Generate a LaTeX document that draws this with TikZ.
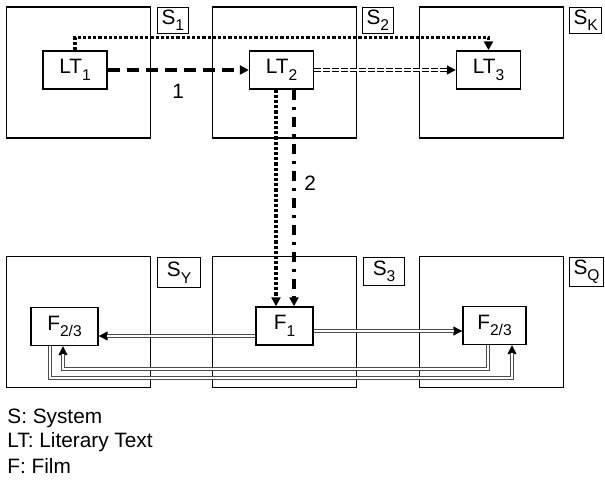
\documentclass[tikz,border=0pt]{standalone}
\usepackage{fontspec}
\setmainfont{Liberation Sans}
\usetikzlibrary{arrows.meta}
\newcommand{\lowsub}[1]{\raisebox{-3.2pt}{\fontsize{7.8}{8}\selectfont #1}}
\tikzset{sys/.style={draw,line width=0.7pt,minimum width=72pt,minimum height=65.5pt,inner sep=0pt},
 tag/.style={draw,line width=0.6pt,anchor=north west,inner xsep=2pt,inner ysep=1.2pt,minimum height=12.5pt},
 item/.style={draw,line width=0.7pt,minimum width=32pt,minimum height=19pt,inner sep=1pt},
 tip/.style={-{Triangle[length=4.5pt,width=4.5pt]}},
 dotline/.style={tip,line width=1.6pt,dash pattern=on 1.6pt off 1pt},
 dashline/.style={tip,line width=2pt,dash pattern=on 6pt off 3.5pt},
 dashdot/.style={tip,line width=1.6pt,dash pattern=on 5pt off 3.5pt on 1.5pt off 3.5pt},
 % thin black line carries the tip, the double line is laid over it
 ddash/.style={tip,line width=0.8pt,dash pattern=on 3.5pt off 1pt,
   postaction={draw,double,double distance=0.6pt,shorten >=4pt,-}},
 dbl/.style={tip,line width=0.6pt,
   postaction={draw=black!70,double,double distance=0.7pt,shorten >=4pt,-}},
 legend/.style={anchor=west,inner sep=0pt}}

\begin{document}
\begin{tikzpicture}[x=0.5pt,y=-0.5pt,font=\fontsize{10.4}{12}\selectfont]
\useasboundingbox (0,0) rectangle (605,485);
% systems, top row
\node[sys](s1) at(78.5,72.5){};
\node[sys](s2) at(284.5,72.5){};
\node[sys](sk) at(491.5,72.5){};
\node[tag](t1) at(157,7){S\lowsub{1}};
\node[tag](t2) at(362,7){S\lowsub{2}};
\node[tag](tk) at(569,7){S\lowsub{K}};
% systems, bottom row
\node[sys](sy) at(78.5,322){};
\node[sys](s3) at(284.5,322){};
\node[sys](sq) at(491.5,322){};
\node[tag,minimum height=15pt,minimum width=21.5pt](ty) at(157,257){S\lowsub{Y}};
\node[tag,minimum height=14pt,minimum width=20.5pt](t3) at(363,257){S\lowsub{3}};
\node[tag,minimum height=13pt](tq) at(569,257){S\lowsub{Q}};
% texts and films
\node[item](lt1) at(75,70){LT\lowsub{1}};
\node[item](lt2) at(281.5,70){LT\lowsub{2}};
\node[item](lt3) at(488.5,70){LT\lowsub{3}};
\node[item,minimum width=33.5pt](fl) at(64.5,326.5){F\lowsub{2/3}};
\node[item,minimum width=28.5pt](f1) at(284.5,326){F\lowsub{1}};
\node[item,minimum width=31.5pt](fr) at(494.5,325.5){F\lowsub{2/3}};
% connectors
\draw[dotline](lt1.north)--++(0,-13)-|(lt3.north);
\draw[dashline](lt1)--node[below=3pt]{1}(lt2);
\draw[ddash](lt2)--(lt3);
\draw[dotline]([xshift=-2.75pt]lt2.south)--([xshift=-2.75pt]lt2.south|-f1.north);
\draw[dashdot]([xshift=6.25pt]lt2.south)--node[right=1pt,pos=0.43]{2}([xshift=6.25pt]lt2.south|-f1.north);
\draw[dbl]([yshift=-5pt]f1.west)--([yshift=-5pt]f1.west-|fl.east);
\draw[dbl]([yshift=-2.5pt]f1.east)--([yshift=-2.5pt]f1.east-|fr.west);
\draw[dbl]([xshift=-7.25pt]fl.south)--++(0,32)-|([xshift=8.75pt]fr.south);
\draw[dbl]([xshift=-3.25pt]fr.south)--++(0,24)-|([xshift=-0.75pt]fl.south);
% legend
\node[legend](ls) at(7,418){S: System};
\node[legend](llt) at(7,442){LT: Literary Text};
\node[legend](lf) at(7,466){F: Film};
\end{tikzpicture}
\end{document}
